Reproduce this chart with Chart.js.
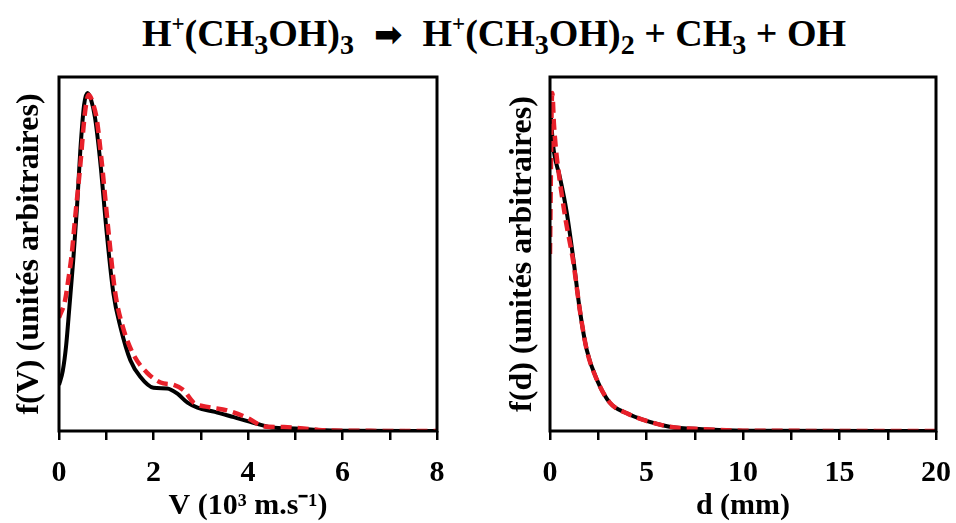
<!DOCTYPE html>
<html>
<head>
<meta charset="utf-8">
<script src="https://cdn.jsdelivr.net/npm/chart.js@4.4.1/dist/chart.umd.min.js"></script>
<style>
  body { margin: 0; background: #fff; width: 956px; height: 523px; position: relative; overflow: hidden; }
  #title {
    position: absolute; left: 0; top: 13px; width: 988px; text-align: center;
    font-family: "Liberation Serif", serif; font-weight: bold; font-size: 38px; color: #000;
    white-space: nowrap; line-height: 40px;
  }
  #title sub { font-size: 28px; vertical-align: -8px; line-height: 0; }
  #title sup { font-size: 23px; vertical-align: 15px; line-height: 0; }
  #title .arrow { font-family: "DejaVu Sans"; font-size: 34px; margin: 0 20px; }
  canvas { position: absolute; top: 0; }
  #leftChart { left: 0; }
  #rightChart { left: 478px; }
</style>
</head>
<body>
<div id="title">H<sup>+</sup>(CH<sub>3</sub>OH)<sub>3</sub><span class="arrow">➡</span>H<sup>+</sup>(CH<sub>3</sub>OH)<sub>2</sub> + CH<sub>3</sub> + OH</div>
<canvas id="leftChart" width="478" height="523"></canvas>
<canvas id="rightChart" width="488" height="523"></canvas>
<script>
// velocity distribution f(V), V in 10^3 m/s
const velBlackX = [0, 0.08, 0.15, 0.22, 0.3, 0.38, 0.45, 0.53, 0.6, 0.68, 0.76, 0.87, 1.01, 1.15, 1.3, 1.51, 1.72, 2.0, 2.29, 2.5, 2.72, 2.93, 3.3, 3.7, 4.15, 4.5, 5.0, 5.5, 6.0, 8.0];
const velBlackY = [0.13, 0.17, 0.24, 0.35, 0.48, 0.63, 0.79, 0.92, 0.955, 0.935, 0.887, 0.765, 0.56, 0.39, 0.294, 0.2, 0.153, 0.122, 0.12, 0.106, 0.08, 0.066, 0.054, 0.039, 0.022, 0.01, 0.007, 0.003, 0.001, 0];
const velRedX = [0, 0.13, 0.2, 0.27, 0.34, 0.45, 0.55, 0.63, 0.72, 0.8, 0.9, 1.05, 1.19, 1.36, 1.58, 1.86, 2.15, 2.43, 2.64, 2.85, 3.14, 3.56, 3.99, 4.34, 4.76, 5.1, 5.5, 6.0, 8.0];
const velRedY = [0.32, 0.37, 0.43, 0.5, 0.6, 0.75, 0.9, 0.95, 0.925, 0.88, 0.765, 0.56, 0.39, 0.29, 0.215, 0.165, 0.137, 0.13, 0.115, 0.08, 0.068, 0.058, 0.037, 0.013, 0.011, 0.008, 0.003, 0.001, 0];

// distance distribution f(d), d in mm
const distBlackX = [0, 0.08, 0.2, 0.5, 0.86, 1.2, 1.55, 1.9, 2.43, 3.1, 3.98, 4.8, 6.2, 7.9, 10, 20];
const distBlackY = [0.93, 0.86, 0.79, 0.72, 0.62, 0.49, 0.34, 0.23, 0.145, 0.08, 0.05, 0.032, 0.012, 0.005, 0.001, 0];
const distRedX = [0, 0.04, 0.08, 0.12, 0.2, 0.3, 0.45, 0.8, 1.2, 1.55, 1.9, 2.43, 3.1, 3.98, 4.8, 6.2, 7.9, 10, 20];
const distRedY = [0.5, 0.7, 0.9, 0.955, 0.87, 0.8, 0.73, 0.6, 0.48, 0.34, 0.23, 0.145, 0.08, 0.05, 0.032, 0.012, 0.005, 0.001, 0];

const SERIF = "'Liberation Serif', 'Times New Roman', serif";
const RED = "#e8202a";

function toPoints(xs, ys) {
    return xs.map((x, i) => ({ x: x, y: ys[i] }));
}

// draws the closed black box around the plot area
const framePlugin = {
    id: "frame",
    afterDatasetsDraw(chart) {
        const { ctx, chartArea: a } = chart;
        ctx.save();
        ctx.strokeStyle = "#000";
        ctx.lineWidth = 3;
        ctx.strokeRect(a.left, a.top, a.right - a.left, a.bottom - a.top);
        ctx.restore();
    },
};

function makeChart(canvasId, cfg) {
    const ctx = document.getElementById(canvasId);
    return new Chart(ctx, {
        type: "line",
        data: {
            datasets: [
                {
                    data: toPoints(cfg.redX, cfg.redY),
                    borderColor: RED,
                    borderWidth: 4.5,
                    borderDash: [11, 6],
                    pointRadius: 0,
                    cubicInterpolationMode: "monotone",
                    fill: false,
                    order: 0,
                },
                {
                    data: toPoints(cfg.blackX, cfg.blackY),
                    borderColor: "#000",
                    borderWidth: 4,
                    pointRadius: 0,
                    cubicInterpolationMode: "monotone",
                    fill: false,
                    order: 1,
                },
            ],
        },
        options: {
            responsive: false,
            animation: false,
            layout: { padding: { top: 77, right: cfg.padRight, bottom: 0, left: 0 } },
            plugins: { legend: { display: false }, tooltip: { enabled: false } },
            scales: {
                x: {
                    type: "linear",
                    min: 0,
                    max: cfg.xMax,
                    afterBuildTicks: (s) => {
                        s.ticks = cfg.ticks.map((v) => ({ value: v }));
                    },
                    afterFit: (s) => { s.height = 92; },
                    ticks: {
                        color: "#000",
                        padding: 15,
                        maxRotation: 0,
                        autoSkip: false,
                        font: { family: SERIF, weight: "bold", size: 30 },
                        callback: (v) => (v % cfg.labelEvery === 0 ? v : ""),
                    },
                    grid: { drawOnChartArea: false, drawTicks: true, tickLength: 9, color: "#000", lineWidth: 2.5 },
                    border: { display: false },
                    title: {
                        display: true,
                        text: cfg.xTitle,
                        color: "#000",
                        padding: { top: 0, bottom: 2 },
                        font: { family: SERIF, weight: "bold", size: 30, lineHeight: 1 },
                    },
                },
                y: {
                    min: 0,
                    max: 1,
                    afterFit: (s) => { s.width = cfg.yWidth; },
                    ticks: { display: false },
                    grid: { display: false },
                    border: { display: false },
                    title: {
                        display: true,
                        text: cfg.yTitle,
                        color: "#000",
                        padding: { top: cfg.yTitlePad, bottom: 0 },
                        font: { family: SERIF, weight: "bold", size: 32 },
                    },
                },
            },
        },
        plugins: [framePlugin],
    });
}

makeChart("leftChart", {
    redX: velRedX, redY: velRedY, blackX: velBlackX, blackY: velBlackY,
    xMax: 8, ticks: [0, 1, 2, 3, 4, 5, 6, 7, 8], labelEvery: 2,
    xTitle: "V (10³ m.s⁻¹)", yTitle: "f(V) (unités arbitraires)",
    yWidth: 59, padRight: 41, yTitlePad: 11,
});

makeChart("rightChart", {
    redX: distRedX, redY: distRedY, blackX: distBlackX, blackY: distBlackY,
    xMax: 20, ticks: [0, 2.5, 5, 7.5, 10, 12.5, 15, 17.5, 20], labelEvery: 5,
    xTitle: "d (mm)", yTitle: "f(d) (unités arbitraires)",
    yWidth: 72, padRight: 29, yTitlePad: 26,
});
</script>
</body>
</html>
